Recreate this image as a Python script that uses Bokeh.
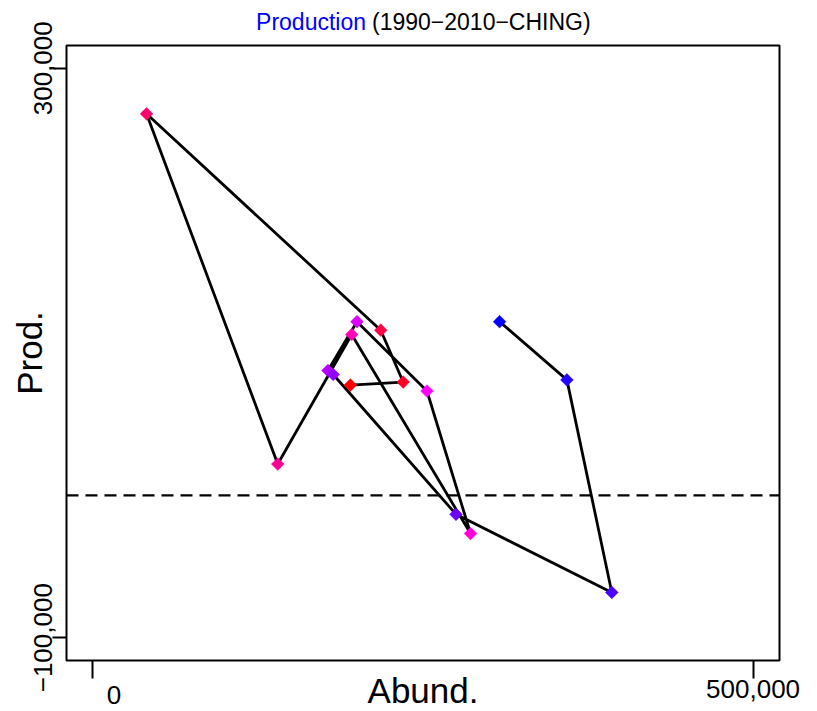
import numpy as np
from bokeh.plotting import figure
from bokeh.models import Range1d, FixedTicker, Span, Label
from bokeh.embed import file_html
from bokeh.resources import INLINE

# ---- data ----
abund = [195000, 235000, 218000, 40600, 140000, 196000, 286000, 253000,
         200000, 178000, 182000, 275000, 393000, 359000, 308000]
prod = [77500, 79600, 116000, 268000, 22000, 113000, -26800, 73300,
        122000, 87700, 84900, -13300, -68200, 81100, 122000]
xlim = [0, 500000]
ylim = [-100000, 300000]
x_ticks = [0, 500000]
x_tick_labels = ["0", "500,000"]
y_ticks = [-100000, 300000]
y_tick_labels = ["\u2212100,000", "300,000"]
title_main = "Production"
title_rest = "(1990\u22122010\u2212CHING)"
x_title = "Abund."
y_title = "Prod."

# point colours: red -> magenta -> blue ramp
palette = ["#FF0000", "#FF0024", "#FF0049", "#FF006D", "#FF0092", "#FF00B6",
           "#FF00DB", "#FF00FF", "#DB00FF", "#B600FF", "#9200FF", "#6D00FF",
           "#4900FF", "#2400FF", "#0000FF"]

FONT = "Liberation Sans"
TOP = 120         # top border of the canvas (holds the text labels' panels)
SHIFT = TOP - 45  # canvas is moved up so that the frame starts at y=45

xext = 0.04 * (xlim[1] - xlim[0])
yext = 0.04 * (ylim[1] - ylim[0])

p = figure(frame_width=713, frame_height=615,
           x_range=Range1d(xlim[0] - xext, xlim[1] + xext),
           y_range=Range1d(ylim[0] - yext, ylim[1] + yext),
           output_backend="svg", toolbar_location=None,
           min_border_left=66, min_border_right=30,
           min_border_top=TOP, min_border_bottom=50,
           styles={"margin-top": f"-{SHIFT}px"})

p.background_fill_color = "white"
p.border_fill_color = "white"
p.outline_line_color = "black"
p.outline_line_width = 2
p.xgrid.visible = False
p.ygrid.visible = False

# x axis
p.xaxis.ticker = FixedTicker(ticks=x_ticks)
p.xaxis.major_label_overrides = {x_ticks[0]: "", x_ticks[1]: x_tick_labels[1]}
p.xaxis.major_label_text_font = FONT
p.xaxis.major_label_text_font_size = "26px"
p.xaxis.major_label_text_color = "black"
p.xaxis.major_tick_out = 18
p.xaxis.major_tick_in = 0
p.xaxis.major_tick_line_width = 2
p.xaxis.major_tick_line_color = "black"
p.xaxis.minor_tick_line_color = None
p.xaxis.axis_line_color = None
p.xaxis.major_label_standoff = 1

# y axis
p.yaxis.ticker = FixedTicker(ticks=y_ticks)
p.yaxis.major_label_overrides = dict(zip(y_ticks, y_tick_labels))
p.yaxis.major_label_orientation = "vertical"
p.yaxis.major_label_text_font = FONT
p.yaxis.major_label_text_font_size = "26px"
p.yaxis.major_label_text_color = "black"
p.yaxis.major_tick_out = 14
p.yaxis.major_tick_in = 0
p.yaxis.major_tick_line_width = 2
p.yaxis.major_tick_line_color = "black"
p.yaxis.minor_tick_line_color = None
p.yaxis.axis_line_color = None
p.yaxis.major_label_standoff = 0
p.yaxis.axis_label = y_title
p.yaxis.axis_label_text_font = FONT
p.yaxis.axis_label_text_font_size = "35px"
p.yaxis.axis_label_text_font_style = "normal"
p.yaxis.axis_label_text_color = "black"
p.yaxis.axis_label_standoff = -17

# zero reference line
p.add_layout(Span(location=0, dimension="width", line_color="black",
                  line_width=2.2, line_dash="12 7"))

# path and points
p.line(abund, prod, line_color="black", line_width=2.8)
p.scatter(abund, prod, marker="square", angle=np.pi / 4, size=9,
          fill_color=palette, line_color=palette, line_width=0.5)

xmid = (xlim[0] + xlim[1]) / 2

# "0" tick label (drawn right of its tick as in the reference)
p.add_layout(Label(x=x_ticks[0], y=p.y_range.start, x_offset=21, y_offset=-34,
                   text=x_tick_labels[0], text_font=FONT, text_font_size="26px",
                   text_align="center", text_baseline="middle", text_color="black"),
             "right")

# x axis title, on the tick-label line as in the reference
p.add_layout(Label(x=xmid, y=p.y_range.start, y_offset=-30,
                   text=x_title, text_font=FONT, text_font_size="35px",
                   text_align="center", text_baseline="middle", text_color="black"),
             "above")

# two-coloured title
p.add_layout(Label(x=xmid, y=p.y_range.end, x_offset=-57, y_offset=24,
                   text=title_main, text_font=FONT, text_font_size="23px",
                   text_align="right", text_baseline="middle", text_color="blue"),
             "above")
p.add_layout(Label(x=xmid, y=p.y_range.end, x_offset=-51, y_offset=24,
                   text=title_rest, text_font=FONT, text_font_size="23px",
                   text_align="left", text_baseline="middle", text_color="black"),
             "above")

open("out.html", "w").write(file_html(p, INLINE))
